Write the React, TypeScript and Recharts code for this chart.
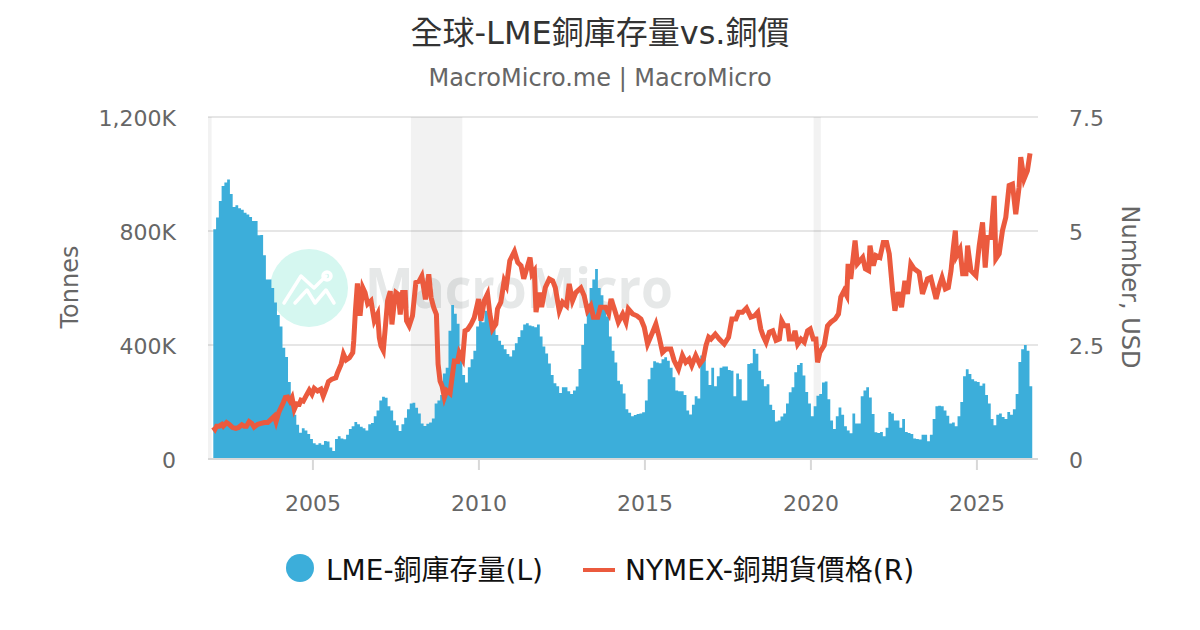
import React from 'react';
import {
  ComposedChart,
  Area,
  Line,
  XAxis,
  YAxis,
  CartesianGrid,
  ReferenceArea,
} from 'recharts';

const FONT = '"DejaVu Sans", "Noto Sans CJK TC", sans-serif';

const TITLE = '全球-LME銅庫存量vs.銅價';
const SUBTITLE = 'MacroMicro.me | MacroMicro';
const STOCK_NAME = 'LME-銅庫存量(L)';
const PRICE_NAME = 'NYMEX-銅期貨價格(R)';

const xTicks = [2005, 2010, 2015, 2020, 2025];
const stockTicks = [0, 400, 800, 1200];
const priceTicks = [0, 2.5, 5, 7.5];

// Recession bands, in decimal years
const bandStarts = [2001.84, 2007.95, 2020.08];
const bandEnds = [2001.95, 2009.5, 2020.3];

// LME stock in thousand tonnes, one value a month from Jan 2002
const stockValues = [
  806, 847, 905, 958, 970, 981, 930, 884, 890, 880, 875, 864,
  858, 849, 835, 835, 785, 786, 715, 630, 630, 600, 549, 505,
  465, 390, 358, 270, 204, 155, 120, 92, 108, 100, 88, 70,
  55, 50, 55, 50, 63, 61, 40, 28, 70, 80, 72, 69,
  85, 105, 115, 130, 122, 113, 108, 100, 122, 126, 150, 170,
  205, 218, 215, 185, 170, 135, 118, 98, 122, 145, 175, 195,
  197, 180, 160, 125, 116, 124, 128, 142, 195, 205, 225, 300,
  320, 450, 540, 510, 475, 380, 295, 268, 322, 350, 380, 465,
  500, 480, 520, 515, 490, 455, 435, 415, 400, 385, 368, 360,
  382, 406, 428, 452, 472, 476, 468, 466, 462, 472, 430, 395,
  370, 335, 295, 266, 255, 232, 252, 252, 238, 228, 240, 254,
  316, 400, 475, 545, 600, 630, 667, 600, 575, 530, 500, 430,
  380, 339, 275, 262, 230, 175, 162, 150, 154, 158, 160, 164,
  205, 280, 320, 343, 339, 336, 350, 357, 345, 320, 287, 240,
  238, 238, 225, 170, 156, 190, 220, 212, 363, 350, 310, 260,
  320, 255, 290, 320, 325, 325, 312, 310, 220, 300, 280, 205,
  205, 333, 336, 386, 369, 310, 280, 255, 262, 190, 172, 132,
  135, 149, 160, 195, 234, 252, 304, 330, 337, 293, 235, 195,
  150, 185, 222, 228, 268, 272, 210, 135, 105, 150, 181, 155,
  115, 100, 90, 160, 125, 125, 220, 240, 252, 216, 158, 94,
  91, 95, 80, 110, 165, 160, 135, 135, 110, 140, 95, 91,
  88, 72, 70, 68, 85, 85, 62, 85, 140, 185, 187, 185,
  170, 152, 125, 128, 115, 150, 200, 290, 315, 298, 280, 273,
  270, 257, 265, 225, 195, 140, 118, 155, 160, 147, 140, 165,
  155, 175, 228, 340, 385, 400, 380, 255,
];

// NYMEX copper, USD, read at the turning points of the line
const priceDates = [
  2002.0, 2002.05, 2002.1, 2002.18, 2002.26, 2002.3, 2002.4, 2002.48, 2002.58, 2002.68,
  2002.76, 2002.86, 2002.93, 2003.0, 2003.08, 2003.16, 2003.23, 2003.34, 2003.44, 2003.54,
  2003.64, 2003.74, 2003.84, 2003.89, 2003.97, 2004.04, 2004.11, 2004.17, 2004.24, 2004.31,
  2004.37, 2004.44, 2004.51, 2004.59, 2004.64, 2004.71, 2004.79, 2004.89, 2004.97, 2005.04,
  2005.14, 2005.24, 2005.31, 2005.39, 2005.47, 2005.57, 2005.69, 2005.74, 2005.85, 2005.92,
  2006.0, 2006.1, 2006.2, 2006.23, 2006.28, 2006.34, 2006.42, 2006.5, 2006.57, 2006.65,
  2006.75, 2006.85, 2006.95, 2007.0, 2007.05, 2007.12, 2007.18, 2007.25, 2007.33, 2007.38,
  2007.45, 2007.5, 2007.57, 2007.63, 2007.7, 2007.78, 2007.82, 2007.9, 2008.0, 2008.1,
  2008.2, 2008.28, 2008.39, 2008.49, 2008.56, 2008.64, 2008.72, 2008.77, 2008.83, 2008.89,
  2008.96, 2009.03, 2009.13, 2009.19, 2009.26, 2009.36, 2009.41, 2009.51, 2009.58, 2009.66,
  2009.76, 2009.86, 2009.99, 2010.06, 2010.16, 2010.26, 2010.33, 2010.41, 2010.51, 2010.56,
  2010.66, 2010.76, 2010.83, 2010.93, 2011.07, 2011.17, 2011.27, 2011.35, 2011.44, 2011.54,
  2011.6, 2011.67, 2011.72, 2011.82, 2011.89, 2012.0, 2012.12, 2012.22, 2012.3, 2012.42,
  2012.52, 2012.64, 2012.72, 2012.82, 2012.92, 2013.07, 2013.17, 2013.27, 2013.37, 2013.45,
  2013.58, 2013.66, 2013.81, 2013.91, 2013.98, 2014.08, 2014.2, 2014.33, 2014.43, 2014.5,
  2014.63, 2014.76, 2014.88, 2014.98, 2015.08, 2015.23, 2015.33, 2015.43, 2015.53, 2015.63,
  2015.78, 2015.88, 2016.01, 2016.13, 2016.23, 2016.33, 2016.41, 2016.53, 2016.65, 2016.76,
  2016.84, 2016.92, 2016.99, 2017.12, 2017.24, 2017.39, 2017.52, 2017.62, 2017.74, 2017.82,
  2017.94, 2018.06, 2018.19, 2018.3, 2018.4, 2018.49, 2018.56, 2018.65, 2018.75, 2018.85,
  2018.95, 2019.05, 2019.12, 2019.2, 2019.3, 2019.35, 2019.45, 2019.52, 2019.6, 2019.7,
  2019.8, 2019.9, 2019.98, 2020.07, 2020.15, 2020.2, 2020.27, 2020.4, 2020.5, 2020.6,
  2020.73, 2020.83, 2020.9, 2021.0, 2021.08, 2021.12, 2021.2, 2021.33, 2021.4, 2021.56,
  2021.64, 2021.74, 2021.78, 2021.88, 2021.96, 2022.08, 2022.18, 2022.28, 2022.36, 2022.46,
  2022.53, 2022.63, 2022.73, 2022.83, 2022.91, 2023.01, 2023.11, 2023.26, 2023.36, 2023.51,
  2023.61, 2023.77, 2023.87, 2023.95, 2024.05, 2024.14, 2024.22, 2024.29, 2024.35, 2024.39,
  2024.49, 2024.57, 2024.67, 2024.72, 2024.82, 2024.97, 2025.07, 2025.17, 2025.25, 2025.32,
  2025.42, 2025.52, 2025.57, 2025.67, 2025.77, 2025.87, 2025.97, 2026.07, 2026.17, 2026.27,
  2026.32, 2026.42, 2026.52, 2026.6,
];

const priceValues = [
  0.7, 0.65, 0.72, 0.72, 0.76, 0.72, 0.8, 0.76, 0.69, 0.67,
  0.69, 0.75, 0.72, 0.72, 0.82, 0.78, 0.7, 0.76, 0.78, 0.8,
  0.8, 0.87, 0.94, 0.82, 1.02, 1.13, 1.24, 1.35, 1.36, 1.27,
  1.35, 1.09, 1.21, 1.2, 1.29, 1.27, 1.38, 1.51, 1.42, 1.55,
  1.49, 1.53, 1.38, 1.53, 1.7, 1.75, 1.78, 1.89, 2.08, 2.3,
  2.17, 2.22, 2.33, 2.59, 3.25, 3.85, 3.14, 3.76, 3.65, 3.4,
  3.47, 3.03, 3.18, 2.66, 2.48, 2.38, 2.88, 3.47, 3.68, 2.95,
  3.43, 3.65, 3.61, 3.17, 3.65, 3.65, 3.03, 2.92, 3.14, 3.87,
  3.9, 4.01, 3.5, 4.05, 3.54, 3.32, 3.17, 2.08, 1.71, 1.6,
  1.35, 1.5, 1.44, 1.78, 2.15, 2.14, 2.33, 2.19, 2.81, 2.84,
  2.95, 3.1, 3.51, 3.03, 3.47, 3.62, 3.18, 2.85, 2.96, 3.29,
  3.44, 3.91, 3.8, 4.35, 4.55, 4.31, 4.24, 3.95, 4.17, 4.42,
  4.06, 4.13, 3.22, 3.65, 3.33, 3.76, 3.95, 3.91, 3.76, 3.25,
  3.44, 3.36, 3.84, 3.47, 3.65, 3.75, 3.58, 3.25, 3.36, 3.11,
  3.11, 3.33, 3.33, 3.19, 3.51, 3.29, 3.0, 3.18, 3.0, 3.29,
  3.18, 3.14, 3.07, 2.89, 2.52, 2.78, 2.96, 2.67, 2.34, 2.41,
  2.41, 2.16, 1.97, 2.27, 2.12, 2.19, 2.05, 2.27, 2.08, 2.19,
  2.49, 2.67, 2.63, 2.74, 2.63, 2.52, 2.67, 3.07, 3.07, 3.22,
  3.22, 3.31, 3.11, 3.14, 3.22, 2.85, 2.7, 2.56, 2.78, 2.81,
  2.6, 2.63, 3.03, 2.92, 2.92, 2.63, 2.63, 2.81, 2.52, 2.63,
  2.56, 2.81, 2.85, 2.63, 2.63, 2.12, 2.34, 2.49, 2.92, 3.0,
  3.07, 3.18, 3.55, 3.69, 3.58, 4.28, 3.95, 4.79, 4.28, 4.42,
  4.17, 4.13, 4.68, 4.24, 4.46, 4.42, 4.75, 4.75, 4.5, 3.69,
  3.25, 3.66, 3.33, 3.91, 3.62, 4.28, 4.17, 4.09, 3.62, 3.95,
  3.98, 3.51, 3.8, 3.98, 3.73, 3.76, 4.13, 4.64, 5.01, 4.46,
  4.6, 4.06, 4.06, 4.68, 4.13, 4.02, 4.68, 5.19, 4.2, 4.86,
  4.86, 5.77, 4.39, 4.5, 5.01, 5.3, 6.0, 6.03, 5.37, 5.96,
  6.62, 6.14, 6.32, 6.7,
];

// The last column keeps its own width, so the final value is repeated at its end
const stockData = [...stockValues, stockValues[stockValues.length - 1]].map((stock, i) => ({
  x: 2002 + i / 12,
  stock,
}));
const priceData = priceDates.map((x, i) => ({ x, price: priceValues[i] }));

const BLUE = '#3caeda';
const RED = '#eb5a3e';
const AXIS_TEXT = { fill: '#666666', fontSize: 22, fontFamily: FONT };
const AXIS_TITLE = { fill: '#666666', fontSize: 24, fontFamily: FONT, textAnchor: 'middle' as const };

function fmtStock(value: number): string {
  return value === 0 ? '0' : `${value.toLocaleString('en-US')}K`;
}

function ChartLegend() {
  return (
    <div
      style={{
        position: 'absolute',
        left: 0,
        top: 548,
        width: 1200,
        height: 42,
        fontFamily: FONT,
        fontSize: 28,
        color: '#111111',
      }}
    >
      <svg width={1200} height={42} style={{ position: 'absolute', left: 0, top: 0 }}>
        <circle cx={300} cy={20} r={14} fill={BLUE} />
        <line x1={583} x2={615} y1={22} y2={22} stroke={RED} strokeWidth={4} />
      </svg>
      <span style={{ position: 'absolute', left: 326, top: 0, whiteSpace: 'nowrap' }}>{STOCK_NAME}</span>
      <span style={{ position: 'absolute', left: 625, top: 0, whiteSpace: 'nowrap' }}>{PRICE_NAME}</span>
    </div>
  );
}

// Logo and name behind the plot
function Watermark() {
  return (
    <svg width={1200} height={630} style={{ position: 'absolute', left: 0, top: 0 }}>
      <circle cx={309} cy={288} r={39} fill="#d5f7f0" />
      <g fill="none" stroke="#ffffff" strokeWidth={3.5} strokeLinecap="round" strokeLinejoin="round">
        <polyline points="284,303 301,276 314,288 326,276" />
        <polyline points="295,303 307,290 315,303 326,290 334,303" />
        <circle cx={327} cy={276} r={4} />
      </g>
      <text
        x={365}
        y={308}
        fontFamily={'"Open Sans", sans-serif'}
        fontWeight={700}
        fontSize={56}
        textLength={308}
        lengthAdjust="spacingAndGlyphs"
        fill="#e6e8e8"
      >
        MacroMicro
      </text>
    </svg>
  );
}

export default function App() {
  return (
    <div style={{ position: 'absolute', left: 0, top: 0, width: 1200, height: 630, background: '#ffffff', overflow: 'hidden' }}>
      <div style={{ position: 'absolute', left: 0, top: 7, width: 1200, textAlign: 'center', fontFamily: FONT, fontSize: 32, color: '#333333' }}>
        {TITLE}
      </div>
      <div style={{ position: 'absolute', left: 0, top: 64, width: 1200, textAlign: 'center', fontFamily: FONT, fontSize: 24, color: '#666666' }}>
        {SUBTITLE}
      </div>
      <Watermark />
      <div style={{ position: 'absolute', left: 0, top: 0 }}>
        <ComposedChart width={1200} height={630} margin={{ top: 117, right: 62, bottom: 112, left: 108 }}>
          <CartesianGrid yAxisId="stock" vertical={false} stroke="#e6e6e6" strokeWidth={2} />
          <XAxis
            xAxisId={0}
            type="number"
            dataKey="x"
            domain={[2001.84, 2026.84]}
            ticks={xTicks}
            allowDataOverflow
            height={59}
            tick={AXIS_TEXT}
            tickSize={11}
            tickMargin={25}
            tickLine={{ stroke: '#d8d8d8', strokeWidth: 2 }}
            axisLine={{ stroke: '#d8d8d8', strokeWidth: 2 }}
          />
          <YAxis
            yAxisId="stock"
            domain={[0, 1200]}
            ticks={stockTicks}
            width={100}
            tick={{ ...AXIS_TEXT, dy: 1 }}
            tickFormatter={fmtStock}
            tickSize={0}
            tickMargin={32}
            axisLine={false}
            tickLine={false}
            label={{ value: 'Tonnes', angle: -90, position: 'insideLeft', dx: -44, dy: -1, style: AXIS_TITLE }}
          />
          <YAxis
            yAxisId="price"
            orientation="right"
            domain={[0, 7.5]}
            ticks={priceTicks}
            width={100}
            tick={{ ...AXIS_TEXT, dy: 1 }}
            tickSize={0}
            tickMargin={31}
            axisLine={false}
            tickLine={false}
            label={{ value: 'Number, USD', angle: 90, position: 'insideRight', dx: -2, dy: -1, style: AXIS_TITLE }}
          />
          {bandStarts.map((start, i) => (
            <ReferenceArea
              key={start}
              yAxisId="stock"
              x1={start}
              x2={bandEnds[i]}
              y1={0}
              y2={1200}
              fill="#000000"
              fillOpacity={0.05}
              stroke="none"
            />
          ))}
          <Area
            yAxisId="stock"
            data={stockData}
            dataKey="stock"
            type="stepAfter"
            fill={BLUE}
            fillOpacity={1}
            stroke="none"
            dot={false}
            activeDot={false}
            isAnimationActive={false}
          />
          <Line
            yAxisId="price"
            data={priceData}
            dataKey="price"
            type="linear"
            stroke={RED}
            strokeWidth={5}
            strokeLinejoin="miter"
            dot={false}
            activeDot={false}
            isAnimationActive={false}
          />
        </ComposedChart>
      </div>
      <ChartLegend />
    </div>
  );
}
